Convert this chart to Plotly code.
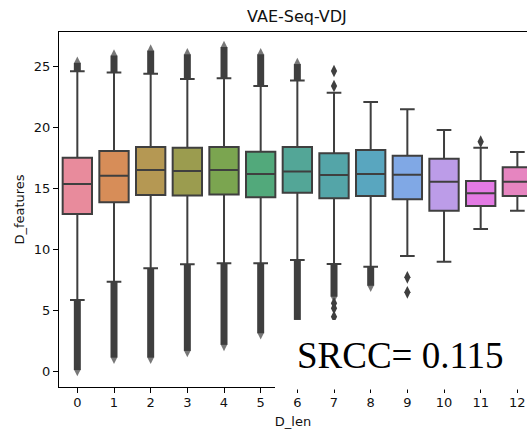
import colorsys
import math

import plotly.graph_objects as go

# ---- data -------------------------------------------------------------
categories = list(range(13))
tick_labels = [str(c) for c in categories]

q1 = [12.9, 13.85, 14.45, 14.4, 14.5, 14.26, 14.64, 14.18, 14.37, 14.1, 13.16, 13.55, 14.37]
medians = [15.35, 16.04, 16.5, 16.42, 16.5, 16.17, 16.37, 16.09, 16.17, 16.12, 15.54, 14.59, 15.54]
q3 = [17.5, 18.06, 18.4, 18.33, 18.4, 18.0, 18.4, 17.87, 18.14, 17.68, 17.43, 15.6, 16.72]
whisker_low = [5.83, 7.33, 8.43, 8.76, 8.84, 8.84, 9.11, 8.78, 8.56, 9.44, 8.97, 11.66, 13.16]
whisker_high = [24.6, 24.5, 24.4, 23.97, 24.03, 23.4, 23.84, 22.85, 22.08, 21.48, 19.79, 18.33, 17.98]

# dense columns of outliers: furthest outlier beyond each whisker (None = no column)
flier_run_low = [0.08, 1.1, 1.1, 1.65, 2.15, 3.1, 4.2, 6.1, 7.0, None, None, None, None]
flier_run_high = [25.3, 25.9, 26.3, 26.0, 26.6, 26.0, 25.2, None, None, None, None, None, None]

# isolated outliers
flier_x = [7, 7, 7, 7, 7, 9, 9, 11]
flier_y = [23.4, 24.63, 5.56, 5.15, 4.46, 7.69, 6.46, 18.83]

y_ticks = [0, 5, 10, 15, 20, 25]
srcc_text = "SRCC= 0.115"


# ---- HUSL palette (seaborn style) -------------------------------------
_M = [[3.2406, -1.5372, -0.4986],
      [-0.9689, 1.8758, 0.0415],
      [0.0557, -0.2040, 1.0570]]
_REF_U, _REF_V = 0.19784, 0.46834


def _max_chroma(L, H):
    hrad = math.radians(H)
    sinH, cosH = math.sin(hrad), math.cos(hrad)
    sub1 = (L + 16) ** 3 / 1560896.0
    sub2 = sub1 if sub1 > 0.008856 else L / 903.3
    result = float("inf")
    for m1, m2, m3 in _M:
        top = (0.99915 * m1 + 1.05122 * m2 + 1.14460 * m3) * sub2
        rbottom = 0.86330 * m3 - 0.17266 * m2
        lbottom = 0.12949 * m3 - 0.38848 * m1
        bottom = (rbottom * sinH + lbottom * cosH) * sub2
        for t in (0.0, 1.0):
            C = L * (top - 1.05122 * t) / (bottom + 0.17266 * sinH * t)
            if 0.0 < C < result:
                result = C
    return result


def _f_inv(t):
    return t ** 3 if t ** 3 > 0.008856 else (116.0 * t - 16.0) / 903.3


def _from_linear(c):
    return 12.92 * c if c <= 0.0031308 else 1.055 * c ** (1 / 2.4) - 0.055


def husl_to_rgb(h, s, l):
    C = _max_chroma(l, h) / 100.0 * s
    hrad = math.radians(h)
    U, V = math.cos(hrad) * C, math.sin(hrad) * C
    Y = _f_inv((l + 16) / 116.0)
    varU = U / (13.0 * l) + _REF_U
    varV = V / (13.0 * l) + _REF_V
    X = 0.0 - (9.0 * Y * varU) / ((varU - 4.0) * varV - varU * varV)
    Z = (9.0 * Y - (15.0 * varV * Y) - (varV * X)) / (3.0 * varV)
    rgb = [_from_linear(r[0] * X + r[1] * Y + r[2] * Z) for r in _M]
    return [min(max(c, 0.0), 1.0) for c in rgb]


def husl_palette(n, h=0.01, s=0.9, l=0.65):
    hues = [((i / n) + h) % 1 * 359 for i in range(n)]
    return [husl_to_rgb(hh, s * 99, l * 99) for hh in hues]


def desaturate(rgb, prop):
    hh, ll, ss = colorsys.rgb_to_hls(*rgb)
    return colorsys.hls_to_rgb(hh, ll, ss * prop)


def lighten(rgb, amount):
    return [c + (1.0 - c) * amount for c in rgb]


def to_hex(rgb):
    return "#" + "".join(f"{int(round(c * 255)):02x}" for c in rgb)


box_rgb = [desaturate(c, 0.75) for c in husl_palette(len(categories))]
box_colors = [to_hex(lighten(c, 0.08)) for c in box_rgb]
lum = min(colorsys.rgb_to_hls(*c)[1] for c in box_rgb) * 0.6
gray = to_hex((lum, lum, lum))

# ---- figure -----------------------------------------------------------
fig = go.Figure()

for i, c in enumerate(categories):
    fig.add_trace(go.Box(
        x=[c], q1=[q1[i]], median=[medians[i]], q3=[q3[i]],
        lowerfence=[whisker_low[i]], upperfence=[whisker_high[i]],
        width=0.8, whiskerwidth=0.5, fillcolor=box_colors[i],
        line=dict(color=gray, width=2), boxpoints=False,
        showlegend=False, hoverinfo="skip",
    ))

# outlier columns
for i, c in enumerate(categories):
    for start, end in ((whisker_low[i], flier_run_low[i]), (whisker_high[i], flier_run_high[i])):
        if end is None:
            continue
        fig.add_trace(go.Scatter(
            x=[c, c], y=[start, end], mode="lines+markers",
            line=dict(color=gray, width=7),
            marker=dict(symbol=["line-ew", "diamond-tall"], size=[0, 9], color=gray,
                        line=dict(width=0)),
            showlegend=False, hoverinfo="skip",
        ))

fig.add_trace(go.Scatter(
    x=flier_x, y=flier_y, mode="markers",
    marker=dict(symbol="diamond-tall", size=9, color=gray, line=dict(width=0)),
    showlegend=False, hoverinfo="skip",
))

axis_font = dict(family="DejaVu Sans", size=13, color="#111111")

fig.update_layout(
    width=527, height=431,
    margin=dict(l=59, r=0, t=32, b=44),
    plot_bgcolor="white", paper_bgcolor="white",
    font=axis_font,
    title=dict(text="VAE-Seq-VDJ", x=0.5085, xref="paper", xanchor="center",
               y=1 - 16 / 431, yanchor="middle",
               font=dict(family="DejaVu Sans", size=16, color="#111111")),
    xaxis=dict(
        range=[-0.5, 12.263], tickmode="array", tickvals=categories, ticktext=tick_labels,
        showline=True, linecolor="black", linewidth=1, mirror=True,
        ticks="outside", ticklen=5, tickwidth=1, tickcolor="black",
        ticklabelstandoff=-2,
        showgrid=False, zeroline=False,
        title=dict(text="D_len", standoff=8, font=axis_font),
    ),
    yaxis=dict(
        range=[-1.31, 27.83], tickmode="array", tickvals=y_ticks,
        showline=True, linecolor="black", linewidth=1, mirror=False,
        ticks="outside", ticklen=5, tickwidth=1, tickcolor="black",
        showgrid=False, zeroline=False,
        title=dict(text="D_features", standoff=6, font=axis_font),
    ),
    shapes=[dict(type="rect", xref="paper", yref="paper",
                 x0=(275 - 59) / 468, x1=1.02, y0=-2.5 / 355, y1=67 / 355,
                 fillcolor="white", line=dict(width=0), layer="above")],
    annotations=[dict(text=srcc_text, xref="paper", yref="paper",
                      x=(400 - 59) / 468, y=(387 - 355) / 355,
                      xanchor="center", yanchor="middle", showarrow=False,
                      font=dict(family="Liberation Serif", size=37, color="black"))],
)

fig.write_html("out.html")
